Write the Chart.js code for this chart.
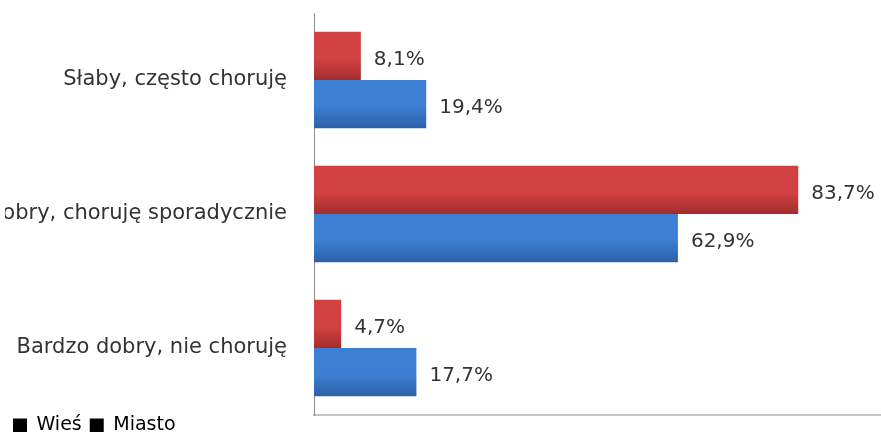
<!DOCTYPE html>
<html>
<head>
<meta charset="utf-8">
<script src="https://cdn.jsdelivr.net/npm/chart.js@4.4.1/dist/chart.umd.min.js"></script>
<style>
    html, body { margin: 0; padding: 0; background: #fff; overflow: hidden; }
    #wrap { width: 881px; height: 452px; position: relative; }
</style>
</head>
<body>
<div id="wrap"><canvas id="healthChart"></canvas></div>
<script>
const categories = ['Słaby, często choruję', 'Dobry, choruję sporadycznie', 'Bardzo dobry, nie choruję'];
const seriesNames = ['Wieś', 'Miasto'];
const wiesValues = [8.1, 83.7, 4.7];
const miastoValues = [19.4, 62.9, 17.7];

const barColors = [['#d24242', '#a32d2d'], ['#3c7fd3', '#2d60a6']];
const catPercent = 0.72;

// vertical shading on every bar, taken from the y scale
function barGradient(ctx) {
    const chart = ctx.chart;
    const yScale = chart.scales.y;
    const [top, bottom] = barColors[ctx.datasetIndex];
    if (!yScale || yScale.height === 0) return top;
    const band = yScale.height / categories.length;
    const half = band * catPercent / 2;
    const center = yScale.getPixelForValue(ctx.dataIndex);
    const y0 = ctx.datasetIndex === 0 ? center - half : center;
    const g = chart.ctx.createLinearGradient(0, y0, 0, y0 + half);
    g.addColorStop(0, top);
    g.addColorStop(0.55, top);
    g.addColorStop(1, bottom);
    return g;
}

const valueLabels = {
    id: 'valueLabels',
    afterLayout(chart) {
        // legend sits tight under the axis, half cut by the bottom edge
        if (chart.legend) {
            chart.legend.top -= 7;
            chart.legend.bottom -= 7;
        }
    },
    afterDatasetsDraw(chart) {
        const ctx = chart.ctx;
        ctx.save();
        ctx.font = '20px "DejaVu Sans"';
        ctx.fillStyle = '#333';
        ctx.textAlign = 'left';
        ctx.textBaseline = 'alphabetic';
        chart.data.datasets.forEach((ds, i) => {
            chart.getDatasetMeta(i).data.forEach((bar, j) => {
                const txt = ds.data[j].toFixed(1).replace('.', ',') + '%';
                ctx.fillText(txt, bar.x + 13, bar.y + 9);
            });
        });
        ctx.restore();
    }
};

const chartEl = document.getElementById('healthChart').getContext('2d');

const healthChart = new Chart(chartEl, {
    type: 'bar',
    data: {
        labels: categories,
        datasets: [
            { label: seriesNames[0], data: wiesValues, backgroundColor: barGradient },
            { label: seriesNames[1], data: miastoValues, backgroundColor: barGradient }
        ]
    },
    options: {
        indexAxis: 'y',
        responsive: true,
        maintainAspectRatio: false,
        animation: false,
        datasets: { bar: { categoryPercentage: catPercent, barPercentage: 1.0 } },
        layout: { padding: { top: 13, left: 5, right: 0, bottom: 0 } },
        scales: {
            x: {
                min: 0,
                max: 98,
                grid: { display: false },
                ticks: { display: false },
                border: { display: true, color: '#c4c4c4', width: 2 },
                afterFit(scale) { scale.height = 0; }
            },
            y: {
                grid: { display: false },
                border: { display: true, color: '#8c8c8c', width: 1 },
                ticks: {
                    color: '#333',
                    padding: 19,
                    font: { family: '"DejaVu Sans"', size: 21 }
                },
                afterFit(scale) {
                    scale.width = 309;
                    scale.paddingTop = 0;
                    scale.paddingBottom = 0;
                }
            }
        },
        plugins: {
            tooltip: { enabled: false },
            legend: {
                position: 'bottom',
                align: 'start',
                labels: {
                    color: '#000',
                    boxWidth: 14,
                    boxHeight: 14,
                    padding: 8,
                    font: { family: '"DejaVu Sans"', size: 19 },
                    generateLabels(chart) {
                        return chart.data.datasets.map((ds, i) => ({
                            text: ds.label,
                            fillStyle: '#000',
                            strokeStyle: '#000',
                            lineWidth: 0,
                            datasetIndex: i
                        }));
                    }
                }
            }
        }
    },
    plugins: [valueLabels]
});
</script>
</body>
</html>
